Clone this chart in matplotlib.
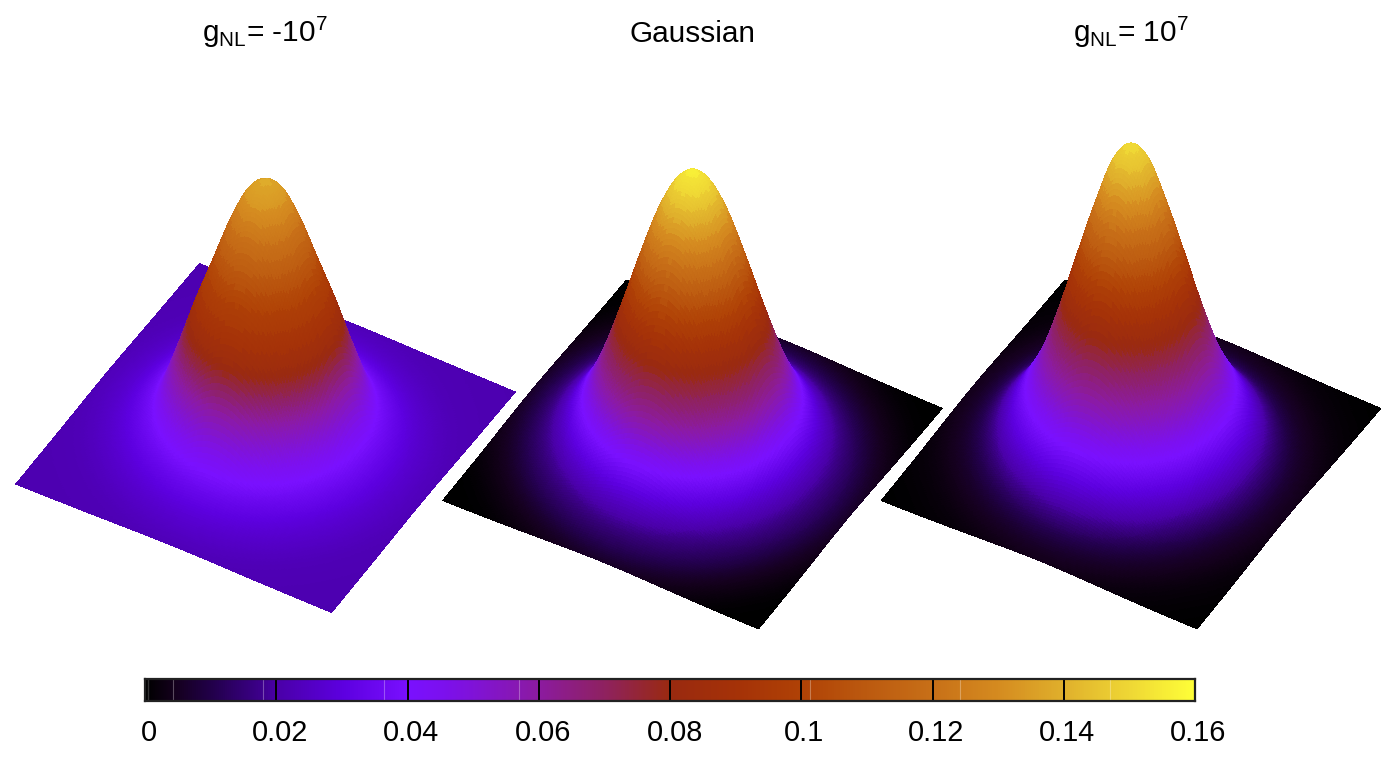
import numpy as np
import matplotlib
matplotlib.use("Agg")
import matplotlib.pyplot as plt
from matplotlib.colors import LinearSegmentedColormap
from mpl_toolkits.mplot3d import proj3d

plt.rcParams['font.family'] = ['Liberation Sans', 'DejaVu Sans']
plt.rcParams['mathtext.fontset'] = 'custom'
plt.rcParams['mathtext.rm'] = 'Liberation Sans'
plt.rcParams['mathtext.it'] = 'Liberation Sans'
plt.rcParams['mathtext.default'] = 'regular'

# ---- data ----
titles = [r"$g_{NL}$= -10$^{7}$", "Gaussian", r"$g_{NL}$= 10$^{7}$"]
radius = [0.0, 0.1, 0.2, 0.3, 0.4, 0.5, 0.6, 0.7, 0.8, 0.9, 1.0, 1.1, 1.2, 1.42]
# surface height along the radius
z_neg = [0.138, 0.133, 0.118, 0.098, 0.078, 0.056, 0.037, 0.030, 0.026, 0.0235, 0.0225, 0.022, 0.0218, 0.0215]
z_gauss = [0.155, 0.148, 0.130, 0.104, 0.076, 0.050, 0.030, 0.017, 0.009, 0.004, 0.002, 0.001, 0.0005, 0.0]
z_pos = [0.150, 0.142, 0.120, 0.094, 0.067, 0.044, 0.028, 0.016, 0.008, 0.004, 0.002, 0.001, 0.0005, 0.0]
# colour value along the radius
c_neg = [0.138, 0.133, 0.118, 0.100, 0.084, 0.058, 0.041, 0.033, 0.028, 0.025, 0.023, 0.0222, 0.0218, 0.0215]
c_gauss = [0.155, 0.148, 0.130, 0.106, 0.082, 0.060, 0.040, 0.026, 0.017, 0.011, 0.006, 0.003, 0.001, 0.0]
c_pos = [0.150, 0.142, 0.120, 0.096, 0.072, 0.052, 0.036, 0.023, 0.013, 0.007, 0.004, 0.002, 0.001, 0.0]
cbar_ticks = [0, 0.02, 0.04, 0.06, 0.08, 0.1, 0.12, 0.14, 0.16]
cbar_labels = ["0", "0.02", "0.04", "0.06", "0.08", "0.1", "0.12", "0.14", "0.16"]
cbar_seams = [0.0043, 0.018, 0.0364, 0.057, 0.1014, 0.1242, 0.147]
palette_vals = [0, .0043, .01, .018, .02, .03, .04, .045, .05, .06, .07, .08, .09, .10, .11, .12, .13, .14, .15, .16]
palette_cols = ["#000000", "#14001c", "#22004a", "#3f0090", "#4a00a8", "#5d00e0", "#7a10ff", "#7c10f0", "#8013d8",
                "#8c1ba0", "#8f2260", "#9a2a10", "#a53208", "#b04206", "#bc5a10", "#c87018", "#d58b20",
                "#e0b02c", "#efd735", "#ffff38"]

W, H = 1400, 764
ZMAX = 0.16
BAND = 0.0055
cmap = LinearSegmentedColormap.from_list("pal", [(v / ZMAX, c) for v, c in zip(palette_vals, palette_cols)], N=512)

ELEV, AZIM = 44.3, -59.8
SPREAD_PX = 499.5
SIDE_PX = 365.0
BOX_Z = 1.5


def hermite(x, xk, yk):
    xk = np.asarray(xk, float)
    yk = np.asarray(yk, float)
    m = np.gradient(yk, xk)
    m[0] = 0.0
    i = np.clip(np.searchsorted(xk, x, side='right') - 1, 0, len(xk) - 2)
    h = xk[i + 1] - xk[i]
    t = (x - xk[i]) / h
    return ((2*t**3 - 3*t**2 + 1) * yk[i] + (t**3 - 2*t**2 + t) * h * m[i]
            + (-2*t**3 + 3*t**2) * yk[i + 1] + (t**3 - t**2) * h * m[i + 1])


def pix(ax, x, y, z):
    ax.apply_aspect()
    ax.M = ax.get_proj()
    px, py, _ = proj3d.proj_transform(x, y, z, ax.M)
    return ax.transData.transform((px, py))


def panel(fig, profile, colour, z0, px_per_z, cx, cy):
    P = 600.0
    ax = fig.add_axes([(cx - P/2)/W, (H - cy - P/2)/H, P/W, P/H], projection='3d', proj_type='ortho')
    ax.set_axis_off()
    ax.patch.set_alpha(0)
    ax.view_init(elev=ELEV, azim=AZIM)
    span = BOX_Z * SIDE_PX * np.cos(np.radians(ELEV)) / px_per_z
    ax.set_xlim(-1, 1, view_margin=0)
    ax.set_ylim(-1, 1, view_margin=0)
    ax.set_zlim(z0, z0 + span, view_margin=0)
    ax.set_box_aspect((1, 1, BOX_Z))
    a = pix(ax, -1, -1, z0)
    b = pix(ax, 1, 1, z0)
    P *= SPREAD_PX / (b[0] - a[0])
    ax.set_position([(cx - P/2)/W, (H - cy - P/2)/H, P/W, P/H])
    c = pix(ax, 0, 0, z0)
    dx, dy = cx - c[0], (H - cy) - c[1]
    ax.set_position([(cx - P/2 + dx)/W, (H - cy - P/2 + dy)/H, P/W, P/H])

    g = np.linspace(-1, 1, 181)
    X, Y = np.meshgrid(g, g)
    R = np.hypot(X, Y)
    Z = hermite(R, radius, profile)
    Rc = 0.25 * (R[:-1, :-1] + R[1:, :-1] + R[:-1, 1:] + R[1:, 1:])
    Zc = np.clip(hermite(Rc, radius, colour), 0, ZMAX)
    # stepped rings of the palette on the upper slope
    w = np.clip((Zc - 0.055) / 0.03, 0, 1) * 0.45
    Zb = Zc + (np.floor(Zc / BAND) * BAND - Zc + BAND / 2) * w
    colors = cmap(Zb / ZMAX)
    ax.plot_surface(X, Y, Z, facecolors=colors, rstride=1, cstride=1, shade=False,
                    linewidth=0, antialiased=False)
    return ax


fig = plt.figure(figsize=(W/100, H/100), dpi=100, facecolor='white')
panel(fig, z_neg, c_neg, 0.022, 2198, 265.5, 437)
panel(fig, z_gauss, c_gauss, 0.0, 1823, 692.5, 454.5)
panel(fig, z_pos, c_pos, 0.0, 2060, 1131, 454.5)

for t, x in zip(titles, [265, 692, 1131]):
    fig.text(x/W, 1 - 42/H, t, ha='center', va='baseline', fontsize=21.4, color='black')

# colour bar
cax = fig.add_axes([145/W, 1 - 701/H, 1050/W, 22/H])
grad = np.linspace(0, ZMAX, 1024).reshape(1, -1)
cax.imshow(grad, aspect='auto', cmap=cmap, vmin=0, vmax=ZMAX, extent=[0, ZMAX, 0, 1])
for s in cbar_seams:
    cax.axvline(s, color='white', alpha=0.3, lw=0.8)
cax.set_xlim(0, ZMAX)
cax.set_yticks([])
cax.set_xticks(cbar_ticks[1:-1])
cax.tick_params(axis='x', direction='in', length=15.84, width=1.4, color='black', labelbottom=False)
cax.axvline(0.0004, color='#333333', lw=1)
for s in cax.spines.values():
    s.set_linewidth(1.6)
    s.set_color('#222222')
lab_x = [149, 280, 411.5, 543, 674.5, 804, 936, 1067, 1198.5]
for v, l, x in zip(cbar_ticks, cbar_labels, lab_x):
    fig.text(x/W, 1 - 741/H, l, ha='center', va='baseline', fontsize=20.8, color='black')

fig.savefig("out.png", dpi=100)
